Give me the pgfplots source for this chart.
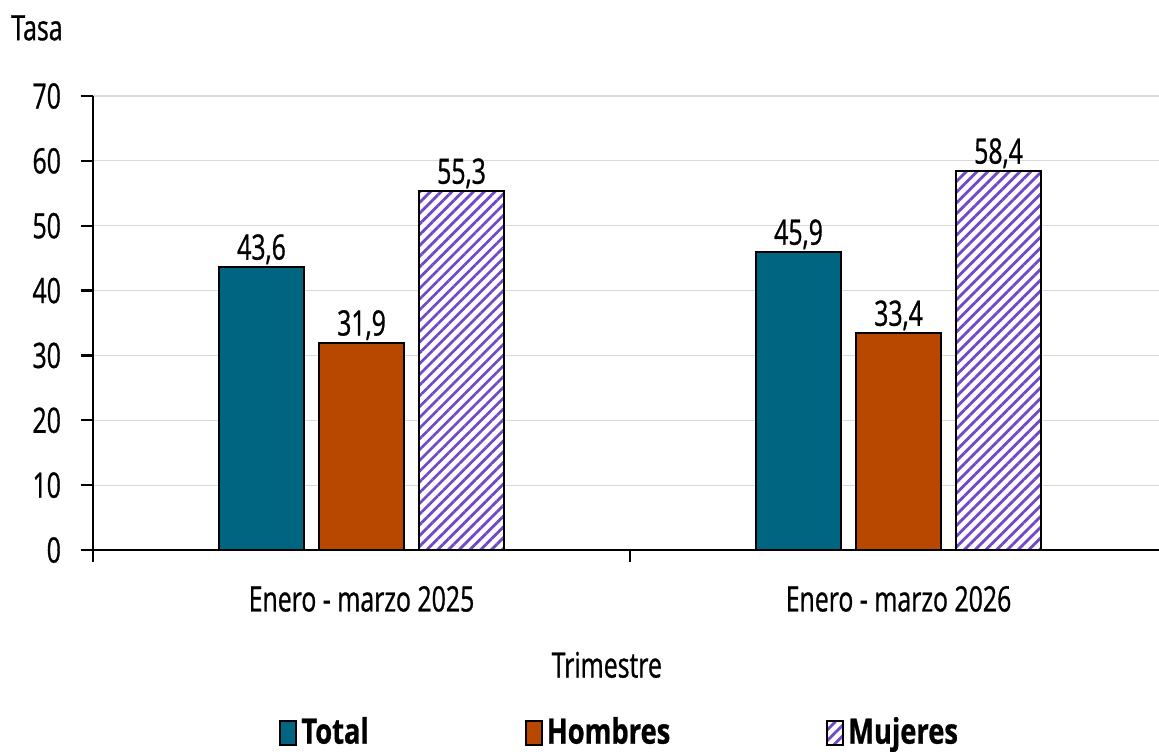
\documentclass[border=0pt]{standalone}
\usepackage{pgfplots}
\pgfplotsset{compat=1.18}
\usetikzlibrary{patterns.meta}
\usepackage{fontspec}
\setmainfont{Open Sans}[FakeStretch=0.71, UprightFeatures={FakeBold=0.8}, BoldFeatures={FakeBold=0.6}]
\newfontfamily\legfont{Open Sans}[FakeStretch=0.78, BoldFeatures={FakeBold=0.8}]
\definecolor{cTotal}{RGB}{0,101,128}
\definecolor{cHom}{RGB}{184,71,0}
\definecolor{cMuj}{RGB}{112,72,200}
\definecolor{cGrid}{RGB}{217,217,217}
\begin{document}
\fontsize{17.5pt}{21pt}\selectfont
\begin{tikzpicture}
\useasboundingbox (-46.5pt,-100.5pt) rectangle (533pt,275pt);
\begin{axis}[
  at={(0pt,0pt)}, anchor=south west,
  scale only axis,
  width=533pt, height=227pt,
  xmin=-0.5, xmax=1.485,
  ymin=0, ymax=70,
  ytick={0,10,...,70},
  axis x line*=bottom, axis y line*=left,
  axis line style={line width=1.2pt, black},
  ymajorgrids, grid style={cGrid, line width=0.6pt},
  tick align=outside,
  ytick style={line width=1.2pt, black},
  xtick style={line width=1.2pt, black},
  major tick length=6pt,
  xtick={-0.5,0.5,1.5}, xticklabels={},
  extra x ticks={0,1},
  extra x tick labels={Enero - marzo 2025, Enero - marzo 2026},
  extra x tick style={major tick length=0pt, grid=none, xticklabel style={yshift=-12pt}},
  /pgf/number format/assume math mode=true,
  yticklabel style={xshift=-4pt},
  ylabel={Tasa},
  ylabel style={rotate=-90, at={(axis description cs:-0.0525,1.15)}, anchor=center},
  xlabel={Trimestre},
  xlabel style={at={(axis description cs:0.482,-0.253)}, anchor=center},
  ybar, bar width=42.5pt,
  nodes near coords={\pgfmathprintnumber[fixed,fixed zerofill,precision=1,use comma,assume math mode=true]{\pgfplotspointmeta}},
  every node near coord/.append style={text=black, inner sep=1pt, yshift=0pt},
  legend columns=3,
  legend style={at={(axis description cs:0.495,-0.403)}, anchor=center, draw=none,
    font=\legfont\bfseries, /tikz/every even column/.append style={column sep=76pt}},
  legend image code/.code={\draw[#1, line width=1pt] (0pt,-6pt) rectangle (8pt,6pt);},
]
\addplot[bar shift=-50pt, fill=cTotal, draw=black, line width=1.1pt] coordinates {(0,43.6) (1,45.9)};
\addplot[bar shift=0pt, fill=cHom, draw=black, line width=1.1pt] coordinates {(0,31.9) (1,33.4)};
\addplot[bar shift=50pt, fill=white, draw=black, line width=1.1pt,
  postaction={pattern={Lines[angle=45,distance=3.8pt,line width=1.4pt]}, pattern color=cMuj}]
  coordinates {(0,55.3) (1,58.4)};
\legend{Total, Hombres, Mujeres}
\end{axis}
\end{tikzpicture}
\end{document}
